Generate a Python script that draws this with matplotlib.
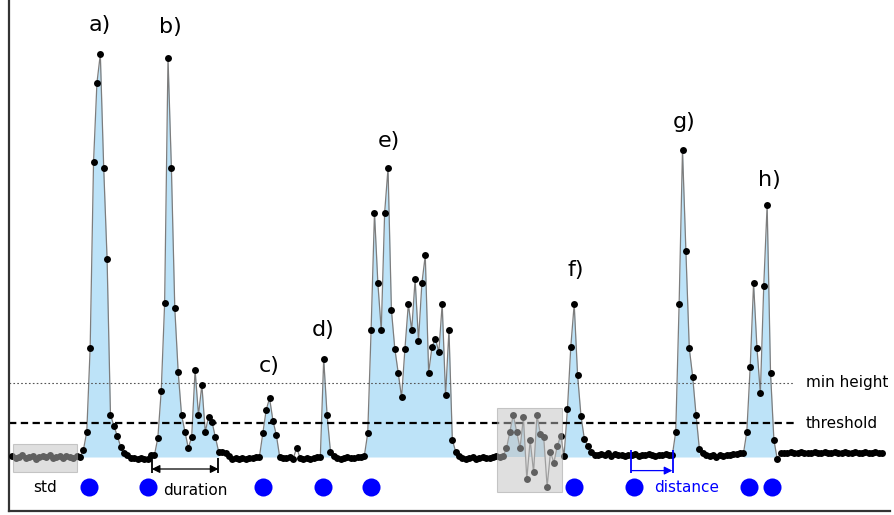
import matplotlib
matplotlib.use("Agg")
import matplotlib.pyplot as plt
import numpy as np

# ---------------- data ----------------
signal = [
    # 0-19 baseline (std region)
    0.2, -0.3, 0.1, 0.4, -0.2, 0.0, 0.3, -0.4, 0.1, 0.2,
    -0.1, 0.4, -0.3, 0.0, 0.2, -0.2, 0.3, 0.1, -0.3, 0.2,
    # 20-33 peak a
    0.0, 1.75, 6.3, 27.3, 73.8, 93.5, 100.7, 72.3, 49.5, 10.5, 7.8, 5.3, 2.6, 0.9,
    # 34-40 baseline
    0.6, -0.3, -0.2, -0.5, -0.3, -0.6, -0.4,
    # 41-62 peak b
    0.5, 0.5, 4.8, 16.6, 38.4, 99.7, 72.2, 37.2, 21.3, 10.5, 6.3, 2.2,
    5.1, 21.75, 10.5, 18.0, 6.3, 10.1, 8.8, 4.9, 1.2, 1.3,
    # 63-72 baseline
    0.9, 0.2, -0.4, -0.2, -0.6, -0.3, -0.5, -0.2, -0.3, -0.1,
    # 73-79 peak c
    0.0, 5.9, 11.75, 14.7, 9.1, 5.5, 0.0,
    # 80-90 baseline (small bump)
    -0.2, -0.3, -0.1, -0.4, 2.3, -0.2, -0.4, -0.2, -0.5, -0.3, -0.1,
    # 91-94 peak d
    0.0, 24.5, 10.4, 1.3,
    # 95-103 baseline
    0.2, -0.3, -0.4, -0.2, -0.1, -0.3, -0.2, -0.1, 0.0,
    # 104-131 peak e
    0.3, 5.9, 31.7, 61.1, 43.4, 31.7, 61.1, 72.2, 36.75, 27.1, 21.1, 14.9,
    27.1, 38.25, 31.7, 44.4, 29.1, 43.4, 50.4, 21.1, 27.6, 29.6, 26.2,
    38.25, 15.4, 31.7, 4.25, 1.3,
    # 132-144 baseline
    0.2, -0.2, -0.4, -0.3, -0.1, -0.4, -0.2, 0.1, -0.3, -0.2, 0.0, 0.2, 0.1,
    # 145-162 noise
    0.25, 2.2, 6.3, 10.5, 6.3, 2.2, 9.9, -5.5, 4.25, -3.8, 10.5, 5.75,
    4.9, -7.4, 1.2, -1.4, 2.75, 5.3,
    # 163-171 peak f
    0.25, 11.9, 27.6, 38.25, 20.5, 10.3, 4.5, 2.8, 1.2,
    # 172-194 baseline
    0.6, 0.4, 0.8, 0.5, 0.9, 0.3, 0.7, 0.5, 0.6, 0.2, 0.5, 0.4,
    0.7, 0.3, 0.6, 0.4, 0.8, 0.5, 0.3, 0.6, 0.4, 0.7, 0.5,
    # 195-203 peak g
    0.5, 6.3, 38.25, 76.75, 51.5, 27.2, 20.1, 10.5, 1.9,
    # 204-215 baseline
    0.9, 0.4, 0.2, 0.5, 0.1, 0.4, 0.3, 0.6, 0.4, 0.7, 0.8, 0.9,
    # 216-226 peak h
    0.9, 6.3, 22.6, 43.4, 27.2, 15.9, 42.75, 63.0, 21.1, 4.25, -0.6,
    # 227-257 baseline
    0.9, 1.1, 1.0, 1.2, 0.9, 1.1, 1.3, 1.0, 1.1, 0.9, 1.2, 1.0, 1.1,
    1.3, 0.9, 1.0, 1.2, 1.1, 0.9, 1.3, 1.0, 1.1, 1.2, 0.9, 1.0, 1.2,
    1.1, 0.9, 1.2, 1.0, 1.1,
]

event_starts = [20, 41, 73, 91, 104, 163, 195, 216]
event_ends = [33, 61, 79, 94, 131, 171, 203, 226]
noise_start, noise_end = 144, 162

peak_labels = ["a)", "b)", "c)", "d)", "e)", "f)", "g)", "h)"]
label_x = [25.9, 46.8, 76.0, 91.9, 111.3, 166.5, 198.4, 223.8]
label_y = [108.0, 107.5, 22.8, 31.7, 79.0, 46.8, 83.8, 69.2]

detected_x = [22.75, 40.0, 74.0, 91.7, 105.9, 166.0, 183.6, 217.7, 224.3]
detected_y = -7.5

threshold = 8.5
min_height = 18.5

# ---------------- figure ----------------
W, H = 895, 515
fig = plt.figure(figsize=(W / 100, H / 100), dpi=100)
ax = fig.add_axes([9.5 / W, 4 / H, (890 - 9.5) / W, 511 / H])

x = np.arange(len(signal))
y = np.array(signal, dtype=float)

fill_c = "#bde3f8"
for s, e in zip(event_starts, event_ends):
    ax.fill_between(x[s:e + 1], y[s:e + 1], 0, color=fill_c, lw=0, zorder=1)
ns = slice(noise_start, noise_end + 1)
ax.fill_between(x[ns], y[ns], 0, where=y[ns] > 0, interpolate=True,
                color=fill_c, lw=0, zorder=1)

ax.plot(x, y, color="#7d7d7d", lw=0.9, zorder=2)
ax.plot(x, y, "o", color="black", ms=5, mew=0, zorder=3)

# threshold / min height lines
ax.hlines(threshold, -0.9, 231.7, colors="black", lw=1.6,
          linestyles=(0, (3.3, 2.0)), zorder=2.5)
ax.hlines(min_height, -0.9, 230.6, colors="#555555", lw=0.8,
          linestyles=(0, (1.5, 2.0)), zorder=2.5)
ax.text(234.5, min_height, "min height", fontsize=11, va="center", ha="left",
        family="DejaVu Sans")
ax.text(234.5, threshold, "threshold", fontsize=11, va="center", ha="left",
        family="DejaVu Sans")

# boxes
ax.add_patch(plt.Rectangle((0.12, -3.7), 19.1, 6.95, facecolor="#c0c0c0",
                           edgecolor="#9a9a9a", lw=0.8, alpha=0.5, zorder=4))
ax.add_patch(plt.Rectangle((143.3, -8.7), 19.0, 21.0, facecolor="#c0c0c0",
                           edgecolor="#9a9a9a", lw=0.8, alpha=0.5, zorder=4))

# detected markers
ax.plot(detected_x, [detected_y] * len(detected_x), "o", color="#0000ff",
        ms=13, mew=0, zorder=3)

# labels
for lx, ly, t in zip(label_x, label_y, peak_labels):
    ax.text(lx, ly, t, fontsize=16, ha="center", va="center",
            family="DejaVu Sans")

ax.text(9.7, -7.5, "std", fontsize=11, ha="center", va="center",
        family="DejaVu Sans")

# duration
ax.vlines([41.2, 60.9], -4.0, -0.25, colors="black", lw=1.3, zorder=3)
ax.annotate("", xy=(60.9, -3.0), xytext=(41.2, -3.0),
            arrowprops=dict(arrowstyle="<|-|>", color="black", lw=0.9,
                            shrinkA=0, shrinkB=0, mutation_scale=12))
ax.text(54.2, -8.3, "duration", fontsize=11, ha="center", va="center",
        family="DejaVu Sans")

# distance
ax.vlines([182.8, 195.3], -4.0, 1.75, colors="#0000ff", lw=1.3, zorder=3)
ax.annotate("", xy=(195.0, -3.4), xytext=(182.8, -3.4),
            arrowprops=dict(arrowstyle="-|>", color="#0000ff", lw=0.9,
                            shrinkA=0, shrinkB=0, mutation_scale=12))
ax.text(189.6, -7.7, "distance", fontsize=11, ha="left", va="center",
        color="#0000ff", family="DejaVu Sans")

ax.set_xlim(-0.83, 259.3)
ax.set_ylim(-13.5, 114.25)
for side in ["top", "right"]:
    ax.spines[side].set_visible(False)
for side in ["left", "bottom"]:
    ax.spines[side].set_color("#333333")
    ax.spines[side].set_linewidth(1.6)
ax.set_xticks([])
ax.set_yticks([])

fig.savefig("out.png", dpi=100)
